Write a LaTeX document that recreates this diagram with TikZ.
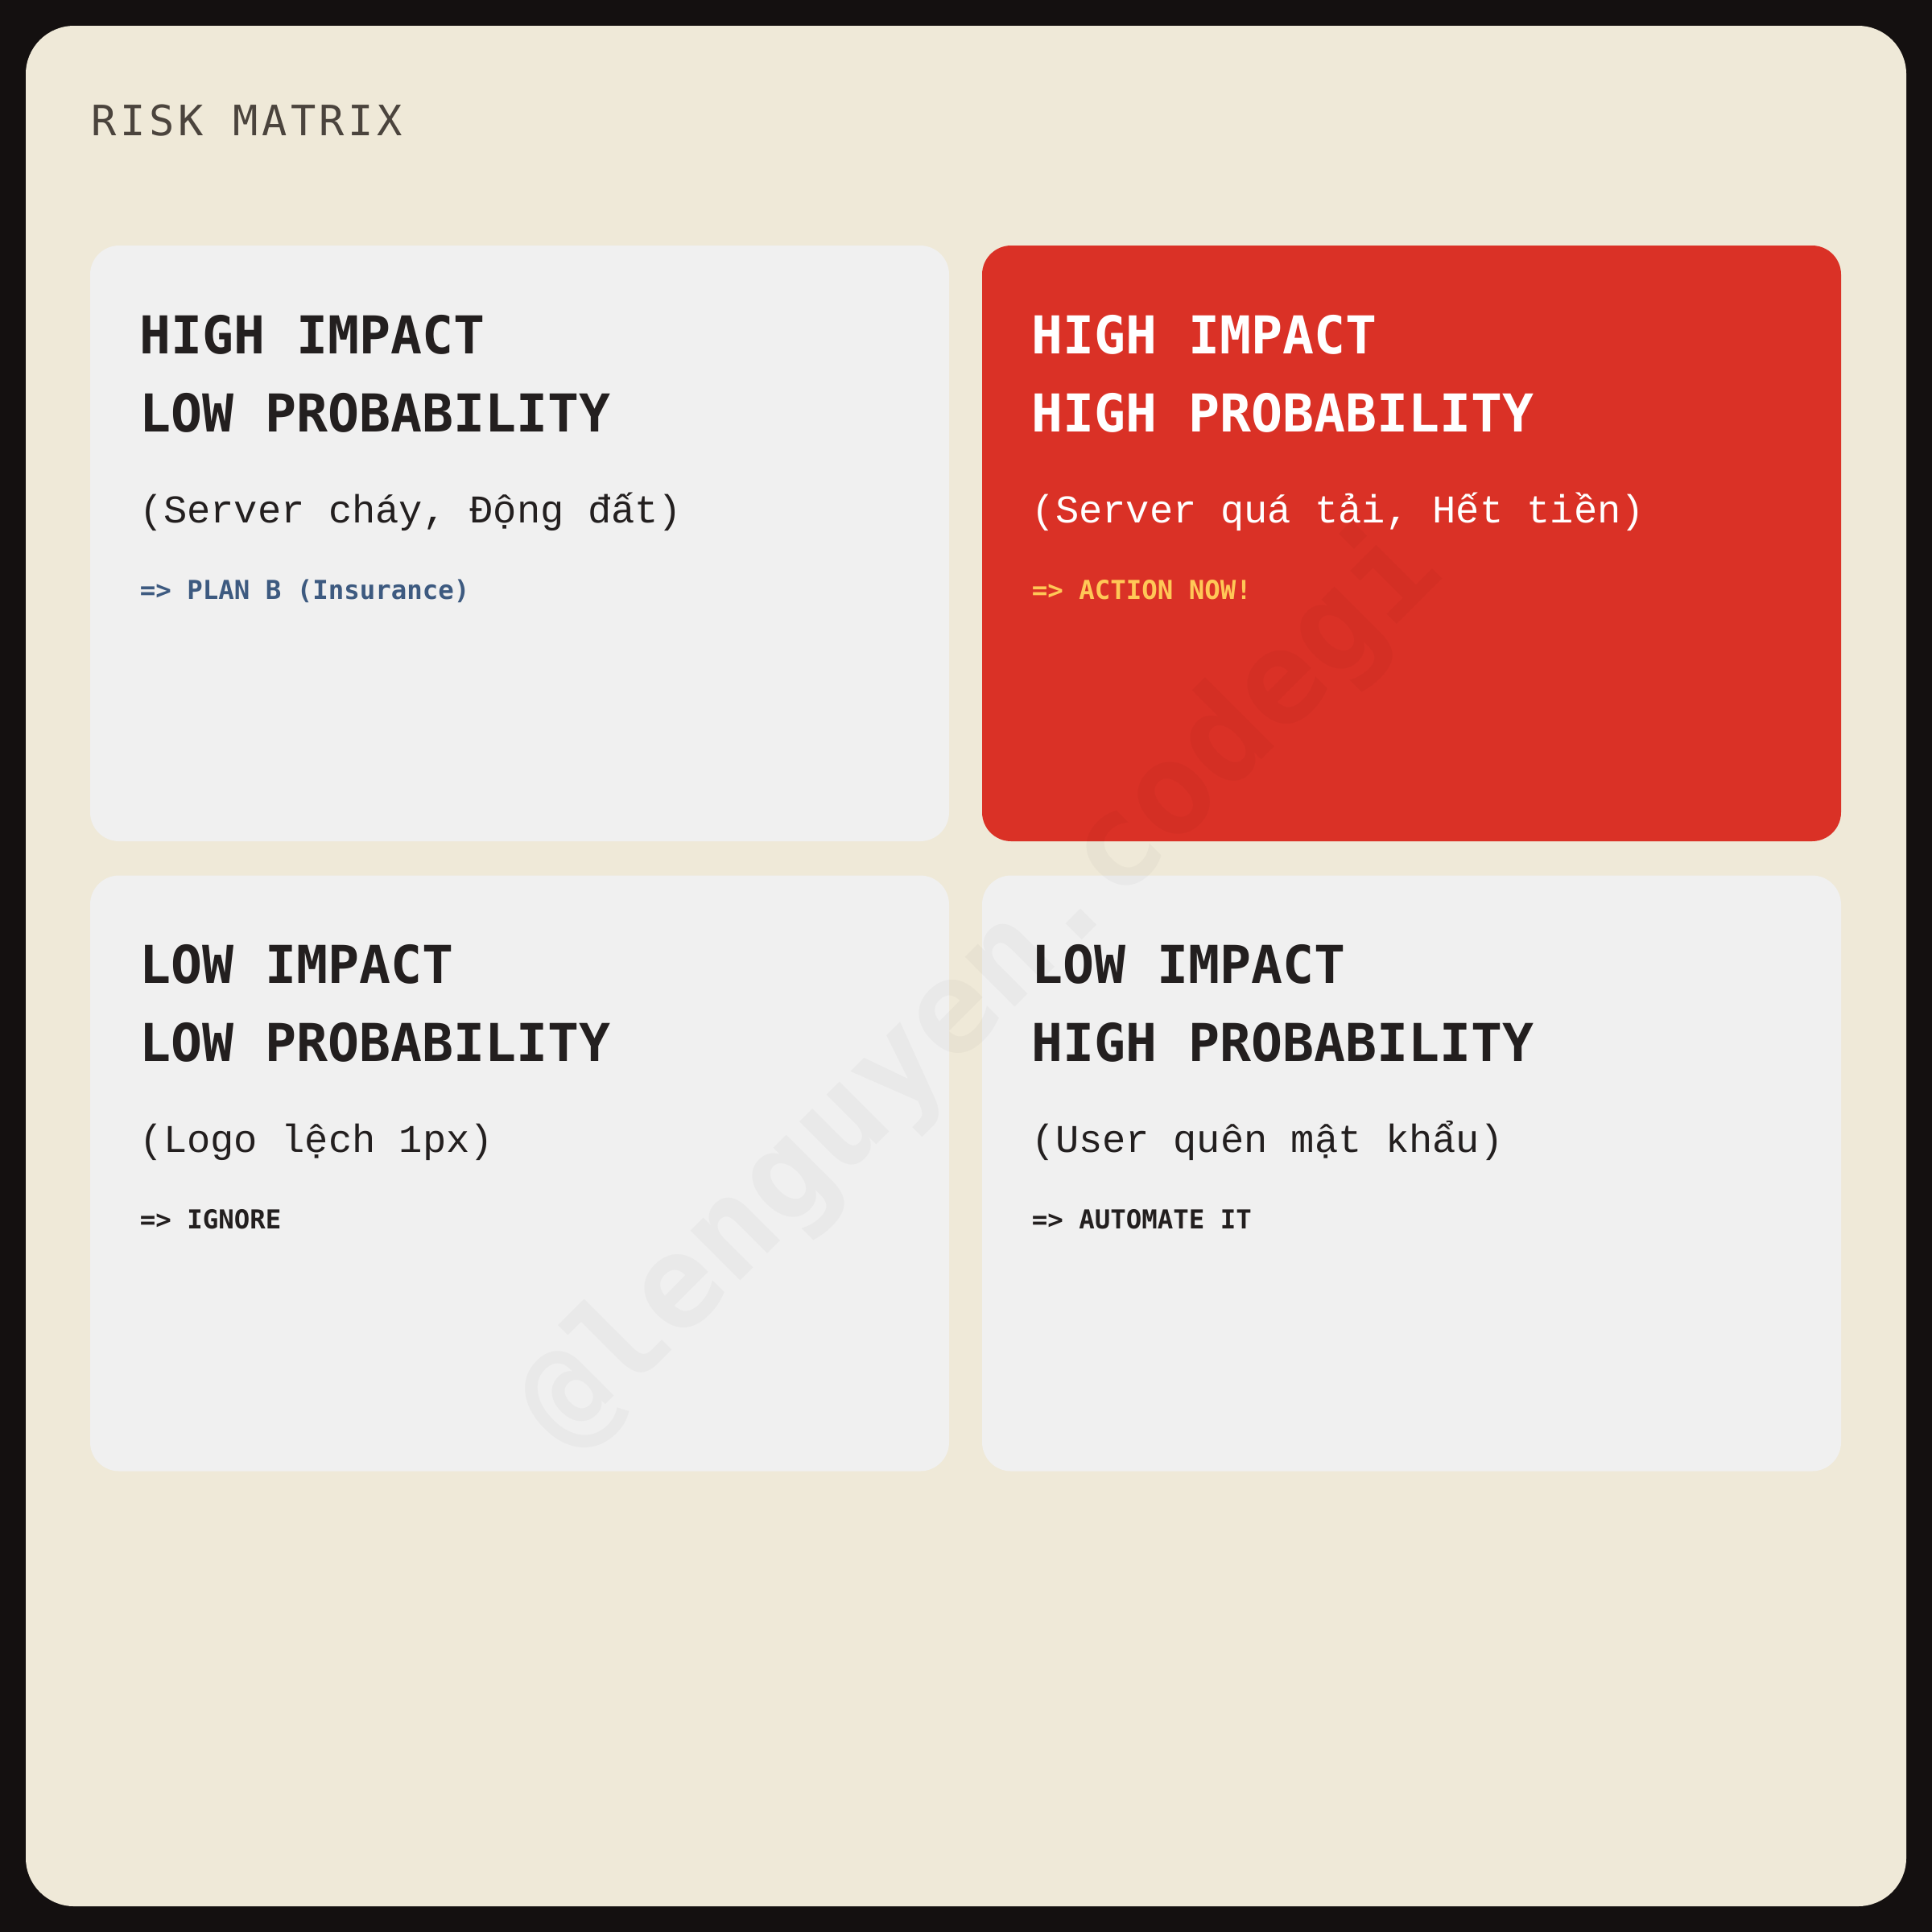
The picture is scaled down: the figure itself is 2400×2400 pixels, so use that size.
\documentclass[tikz,border=0pt]{standalone}
\usepackage{fontspec}
\newfontfamily\monofont{DejaVu Sans Mono}
\newfontfamily\vietfont{Liberation Mono}
\usetikzlibrary{positioning}

\definecolor{frame}{HTML}{141010}
\definecolor{paper}{HTML}{EFE9D8}
\definecolor{cardbg}{HTML}{F0F0F0}
\definecolor{alarm}{HTML}{DA3126}
\definecolor{ink}{HTML}{231F1F}
\definecolor{muted}{HTML}{4B443D}
\definecolor{slate}{HTML}{3D5A80}
\definecolor{gold}{HTML}{FFC857}

\tikzset{
  card/.style={rounded corners=9pt, fill=cardbg, inner sep=0pt,
    minimum width=266.75pt, minimum height=185pt},
  heading/.style={anchor=base west, inner sep=0pt, text=ink,
    font=\monofont\bfseries\fontsize{16.2}{18}\selectfont},
  example/.style={anchor=base west, inner sep=0pt, text=ink,
    font=\vietfont\fontsize{12.2}{14}\selectfont},
  verdict/.style={anchor=base west, inner sep=0pt, text=ink,
    font=\monofont\bfseries\fontsize{8.1}{10}\selectfont},
}

\begin{document}
\begin{tikzpicture}[x=0.25pt, y=-0.25pt]
  % frame and paper
  \fill[frame] (0,0) rectangle (2400,2400);
  \fill[paper, rounded corners=15pt] (32,32) rectangle (2368,2368);
  \node[anchor=base west, inner sep=0pt, text=muted,
    font=\monofont\addfontfeatures{LetterSpace=9}\fontsize{13}{15}\selectfont]
    (title) at (113,168) {RISK MATRIX};

  % the four cards
  \node[card] (hilo) at (645.5,675) {};
  \node[card, fill=alarm] (hihi) at (1753.5,675) {};
  \node[card] (lolo) at (645.5,1457.5) {};
  \node[card] (lohi) at (1753.5,1457.5) {};

  % high impact, low probability
  \node[heading] (hiloA) at (173,439) {HIGH IMPACT};
  \node[heading] (hiloB) at (173,536) {LOW PROBABILITY};
  \node[example] (hiloC) at (173,649) {(Server cháy, Động đất)};
  \node[verdict, text=slate] (hiloD) at (173,744) {=> PLAN B (Insurance)};

  % high impact, high probability
  \node[heading, text=white] (hihiA) at (1281,439) {HIGH IMPACT};
  \node[heading, text=white] (hihiB) at (1281,536) {HIGH PROBABILITY};
  \node[example, text=white] (hihiC) at (1281,649) {(Server quá tải, Hết tiền)};
  \node[verdict, text=gold] (hihiD) at (1281,744) {=> ACTION NOW!};

  % low impact, low probability
  \node[heading] (loloA) at (173,1221) {LOW IMPACT};
  \node[heading] (loloB) at (173,1318) {LOW PROBABILITY};
  \node[example] (loloC) at (173,1431) {(Logo lệch 1px)};
  \node[verdict] (loloD) at (173,1526) {=> IGNORE};

  % low impact, high probability
  \node[heading] (lohiA) at (1281,1221) {LOW IMPACT};
  \node[heading] (lohiB) at (1281,1318) {HIGH PROBABILITY};
  \node[example] (lohiC) at (1281,1431) {(User quên mật khẩu)};
  \node[verdict] (lohiD) at (1281,1526) {=> AUTOMATE IT};

  % watermark
  \node[rotate=45, inner sep=0pt, text=black, text opacity=0.028,
    font=\monofont\bfseries\fontsize{40}{42}\selectfont]
    (mark) at (1217,1226) {@lenguyen.codegi};
\end{tikzpicture}
\end{document}
